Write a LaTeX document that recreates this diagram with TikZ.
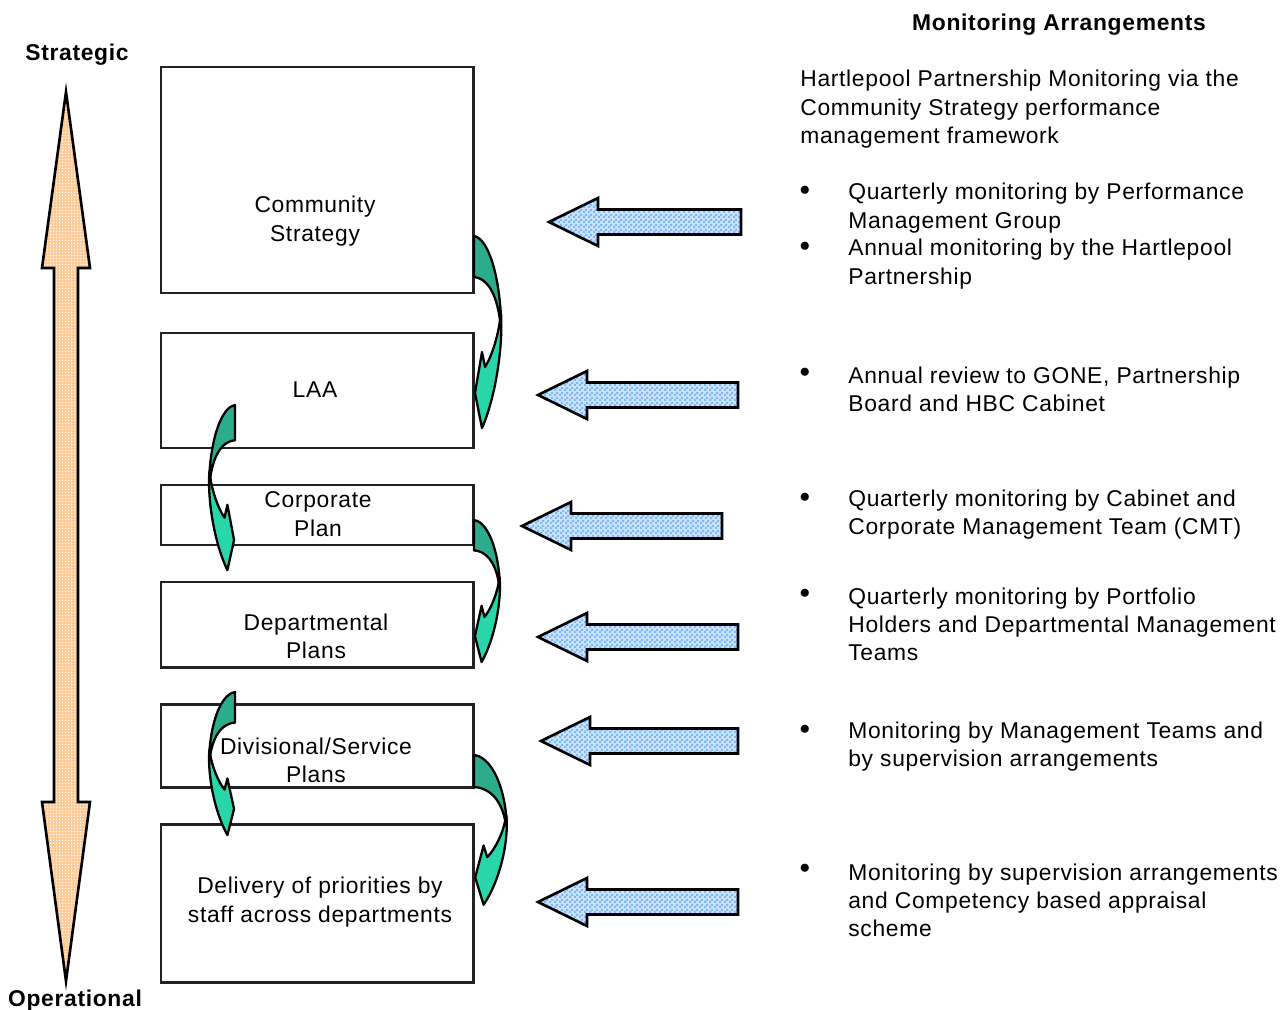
\documentclass[tikz,border=0pt]{standalone}
\usepackage{fontspec}
\setmainfont{Liberation Sans}[LetterSpace=3]
\usetikzlibrary{patterns}

\definecolor{tealdark}{RGB}{44,172,138}
\definecolor{teallight}{RGB}{41,214,170}
\definecolor{checkblue}{RGB}{125,185,250}
\definecolor{paleblue}{RGB}{205,228,255}
\definecolor{peach}{RGB}{255,204,153}
\definecolor{boxline}{RGB}{34,34,34}

% small checks and dots like the original fills
\pgfdeclarepatternformonly{finecheck}{\pgfpointorigin}{\pgfpoint{2.6pt}{2.6pt}}{\pgfpoint{2.6pt}{2.6pt}}{%
  \pgfpathrectangle{\pgfpointorigin}{\pgfpoint{1.3pt}{1.3pt}}%
  \pgfpathrectangle{\pgfpoint{1.3pt}{1.3pt}}{\pgfpoint{1.3pt}{1.3pt}}%
  \pgfusepath{fill}}
\pgfdeclarepatternformonly{finegrid}{\pgfpointorigin}{\pgfpoint{1.8pt}{1.8pt}}{\pgfpoint{1.8pt}{1.8pt}}{%
  \pgfpathrectangle{\pgfpointorigin}{\pgfpoint{0.8pt}{0.8pt}}%
  \pgfusepath{fill}}

\tikzset{
  plan/.style={draw=boxline, line width=1.7pt},
  plantext/.style={align=center, font=\fontsize{13}{16}\selectfont, inner sep=0pt, yshift=-1.2pt},
  monitext/.style={align=left, anchor=west, font=\fontsize{13}{16}\selectfont, inner sep=0pt, yshift=-1.2pt},
  heading/.style={font=\fontsize{13}{16}\selectfont\bfseries, inner sep=0pt, yshift=-1.2pt},
  dot/.style={font=\fontsize{13}{16}\selectfont, inner sep=0pt},
  blockarrow/.style={draw=black, line width=1.5pt, line join=miter,
    preaction={fill=paleblue}, pattern=finecheck, pattern color=checkblue},
  pics/bend/.style={code={
    \draw[line width=1.3pt, fill=tealdark, line join=round]
      (0,0) .. controls (12,2) and (24,30) .. (27,80) -- (26,84)
      .. controls (22,55) and (12,42) .. (0,41) -- cycle;
    \draw[line width=1.3pt, fill=teallight, line join=round]
      (27,78) .. controls (29,110) and (22,160) .. (8,192) -- (1,157)
      -- (8,116) -- (11,131) .. controls (18,120) and (24,100) .. (26,84) -- cycle;
  }}
}

% left pointing block arrow: tip x, tail x, y
\newcommand{\leftblock}[3]{%
  \draw[blockarrow] (#1,#3) -- ++(49,-24) -- ++(0,11.5) -- ({#2},{#3-12.5})
    -- ({#2},{#3+12.5}) -- ({#1+49},{#3+12.5}) -- ++(0,11.5) -- cycle;}

\begin{document}
\begin{tikzpicture}[x=0.02cm, y=-0.02cm]
  \useasboundingbox (0,0) rectangle (1287,1010);

  % strategic / operational scale
  \draw[line width=1.5pt, preaction={fill=peach}, pattern=finegrid, pattern color=white]
    (66,92) -- (90,268) -- (78,268) -- (78,802) -- (90,802) -- (66,981)
    -- (42,802) -- (54,802) -- (54,268) -- (42,268) -- cycle;
  \node[heading] (strat) at (77,53) {Strategic};
  \node[heading] (oper) at (75,998) {Operational};

  % plan boxes
  \draw[plan] (161,67) rectangle (473,293);
  \draw[plan] (161,333) rectangle (473,448);
  \draw[plan] (161,485) rectangle (473,545);
  \draw[plan] (161,582) rectangle (473,667);
  \draw[plan] (161,704) rectangle (473,787);
  \draw[plan] (161,824) rectangle (473,982);

  \node[plantext] (cs) at (315,219) {Community\\Strategy};
  \node[plantext] (laa) at (315,388) {LAA};
  \node[plantext] (corp) at (318,512) {Corporate\\Plan};
  \node[plantext] (dept) at (316,634) {Departmental\\Plans};
  \node[plantext] (div) at (316,758) {Divisional/Service\\Plans};
  \node[plantext] (deliv) at (320,900) {Delivery of priorities by\\staff across departments};

  % cascade arrows
  \pic at (474,236) {bend};
  \pic[xscale=-0.95, yscale=0.86] at (235,405) {bend};
  \pic[xscale=0.95, yscale=0.74] at (474,520) {bend};
  \pic[xscale=-0.95, yscale=0.745] at (235,692) {bend};
  \pic[xscale=1.2, yscale=0.78] at (474,755) {bend};

  % monitoring arrows
  \leftblock{549}{741}{222}
  \leftblock{538}{738}{395}
  \leftblock{522}{722}{526}
  \leftblock{538}{738}{637}
  \leftblock{541}{738}{741}
  \leftblock{538}{738}{902}

  % monitoring arrangements
  \node[heading] (mon) at (1059,23) {Monitoring Arrangements};
  \node[monitext] (intro) at (800,107) {Hartlepool Partnership Monitoring via the\\Community Strategy performance\\management framework};

  \node[dot] (b1) at (805,191) {$\bullet$};
  \node[dot] (b2) at (805,247) {$\bullet$};
  \node[dot] (b3) at (805,373) {$\bullet$};
  \node[dot] (b4) at (805,498) {$\bullet$};
  \node[dot] (b5) at (805,594) {$\bullet$};
  \node[dot] (b6) at (805,730) {$\bullet$};
  \node[dot] (b7) at (805,869) {$\bullet$};

  \node[monitext] (m1) at (848,206) {Quarterly monitoring by Performance\\Management Group};
  \node[monitext] (m2) at (848,262) {Annual monitoring by the Hartlepool\\Partnership};
  \node[monitext] (m3) at (848,387.5) {Annual review to GONE, Partnership\\Board and HBC Cabinet};
  \node[monitext] (m4) at (848,512.5) {Quarterly monitoring by Cabinet and\\Corporate Management Team (CMT)};
  \node[monitext] (m5) at (848,622) {Quarterly monitoring by Portfolio\\Holders and Departmental Management\\Teams};
  \node[monitext] (m6) at (848,744.5) {Monitoring by Management Teams and\\by supervision arrangements};
  \node[monitext] (m7) at (848,898) {Monitoring by supervision arrangements\\and Competency based appraisal\\scheme};
\end{tikzpicture}
\end{document}
